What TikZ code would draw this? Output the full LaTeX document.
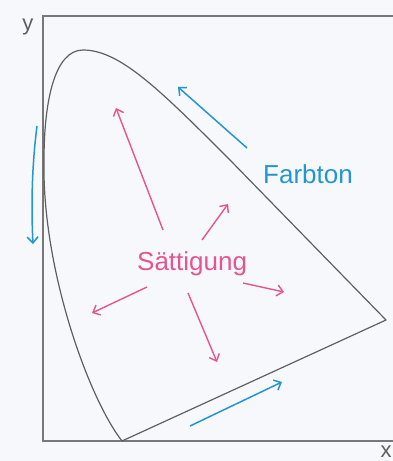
\documentclass[tikz,border=0pt]{standalone}
\usepackage{fontspec}
\setmainfont{Liberation Sans}
\usetikzlibrary{arrows.meta}
\definecolor{bg}{RGB}{246,248,251}
\definecolor{framegray}{RGB}{120,120,120}
\definecolor{curvegray}{RGB}{95,95,95}
\definecolor{hueblue}{RGB}{35,150,210}
\definecolor{satpink}{RGB}{228,85,145}
\tikzset{
  framestyle/.style={draw=framegray, line width=1.1pt},
  curvestyle/.style={draw=curvegray, line width=1.2pt, line join=round},
  huearrow/.style={draw=hueblue, line width=1.5pt, -{Straight Barb[length=6pt,width=11pt]}},
  satarrow/.style={draw=satpink, line width=1.4pt, -{Straight Barb[length=6pt,width=11pt]}},
  axislabel/.style={inner sep=0pt, anchor=base, text=curvegray, font=\fontsize{22}{24}\selectfont},
  biglabel/.style={inner sep=0pt, anchor=base west, font=\fontsize{26}{28}\selectfont}
}
\begin{document}
\begin{tikzpicture}[x=1pt,y=-1pt]
\useasboundingbox[fill=bg] (0,0) rectangle (393,461);
% frame
\draw[framestyle] (393,16) -- (43,16) -- (43,441) -- (393,441);
\node[axislabel] (ylab) at (28,30) {y};
\node[axislabel] (xlab) at (386,457) {x};
% chromaticity curve
\draw[curvestyle] (386,320) -- (230,160)
  .. controls (160,90) and (120,50) .. (83,50)
  .. controls (55,50) and (44,100) .. (44,160)
  -- (44,175)
  .. controls (46,280) and (90,400) .. (122,441)
  -- cycle;
% labels
\node[biglabel, text=hueblue] (farbton) at (263,183) {Farbton};
\node[biglabel, text=satpink] (saett) at (137,270) {Sättigung};
% hue arrows
\coordinate (h1a) at (247,148); \coordinate (h1b) at (178,87);
\coordinate (h2a) at (37,126);  \coordinate (h2b) at (33,244);
\coordinate (h3a) at (190,426); \coordinate (h3b) at (282,382);
\draw[huearrow] (h1a) -- (h1b);
\draw[huearrow] (h2a) .. controls (32,165) and (31,205) .. (h2b);
\draw[huearrow] (h3a) -- (h3b);
% saturation arrows
\coordinate (s1a) at (163,230); \coordinate (s1b) at (116,108);
\coordinate (s2a) at (202,240); \coordinate (s2b) at (228,204);
\coordinate (s3a) at (243,283); \coordinate (s3b) at (284,292);
\coordinate (s4a) at (188,293); \coordinate (s4b) at (217,362);
\coordinate (s5a) at (147,287); \coordinate (s5b) at (92,313);
\draw[satarrow] (s1a) -- (s1b);
\draw[satarrow] (s2a) -- (s2b);
\draw[satarrow] (s3a) -- (s3b);
\draw[satarrow] (s4a) -- (s4b);
\draw[satarrow] (s5a) -- (s5b);
\end{tikzpicture}
\end{document}
